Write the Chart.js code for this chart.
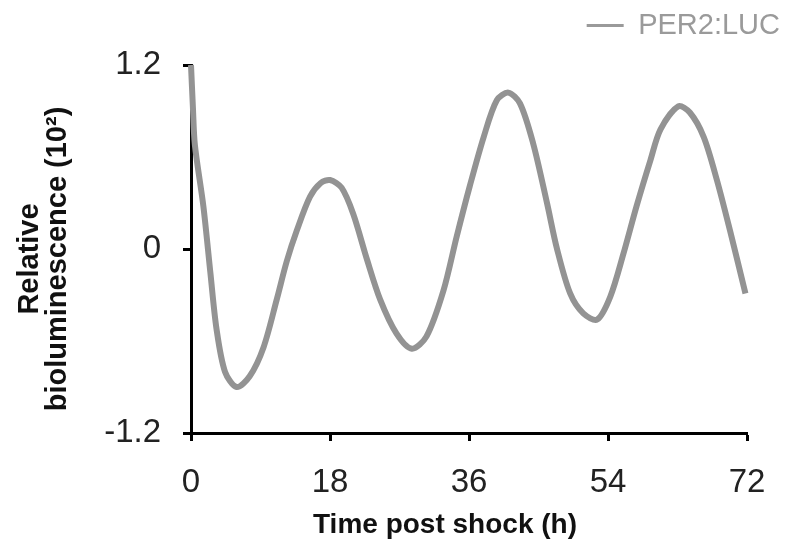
<!DOCTYPE html>
<html>
<head>
<meta charset="utf-8">
<script src="https://cdn.jsdelivr.net/npm/chart.js@4.4.1/dist/chart.umd.min.js"></script>
<style>
  html, body { margin: 0; padding: 0; background: #fff; }
  #wrap { width: 787px; height: 546px; }
</style>
</head>
<body>
<div id="wrap"><canvas id="chart"></canvas></div>
<script>
// hours after shock
const hours = [0, 0.25, 0.5, 1.6, 2.5, 3.3, 4.4, 5.9, 7.6, 9.4, 11.1, 12.4, 13.7, 15.4, 16.8,
  18.0, 19.5, 21.0, 22.8, 24.5, 26.6, 28.6, 30.5, 32.7, 34.4, 36.1, 37.9, 39.6, 41.1,
  42.6, 44.3, 46.1, 47.4, 49.1, 50.8, 52.6, 54.3, 56.0, 57.7, 59.5, 60.8, 63.1, 64.6,
  66.4, 68.1, 69.8, 71.8];
// relative bioluminescence (10^2)
const per2luc = [1.2, 0.92, 0.68, 0.28, -0.15, -0.52, -0.80, -0.90, -0.83, -0.64, -0.33, -0.08,
  0.12, 0.34, 0.43, 0.45, 0.40, 0.23, -0.07, -0.33, -0.55, -0.65, -0.57, -0.27, 0.08,
  0.41, 0.73, 0.97, 1.02, 0.95, 0.69, 0.30, 0.0, -0.29, -0.42, -0.46, -0.31, -0.03,
  0.28, 0.58, 0.78, 0.93, 0.89, 0.73, 0.45, 0.12, -0.29];

const xTicks = [0, 18, 36, 54, 72];
const yTicks = [-1.2, 0, 1.2];
const yTickLabels = ['-1.2', '0', '1.2'];
const seriesName = 'PER2:LUC';
const xTitle = 'Time post shock (h)';
const yTitle = ['Relative', 'bioluminescence (10\u00B2)'];

const FONT = '"Liberation Sans", Arial, Helvetica, sans-serif';

// axis titles drawn by hand so they can sit off-centre like the original
const axisTitles = {
  id: 'axisTitles',
  afterLayout(chart) {
    // legend sits higher than chart.js would put it
    if (chart.legend) {
      chart.legend.top -= 15;
      chart.legend.bottom -= 15;
    }
  },
  afterDraw(chart) {
    const { ctx, chartArea } = chart;
    ctx.save();
    ctx.fillStyle = '#111';
    ctx.font = 'bold 28px ' + FONT;
    ctx.textAlign = 'center';
    ctx.textBaseline = 'alphabetic';
    ctx.fillText(xTitle, (chartArea.left + chartArea.right) / 2 - 24, chartArea.bottom + 100);

    const cy = (chartArea.top + chartArea.bottom) / 2 + 10;
    ctx.translate(0, cy);
    ctx.rotate(-Math.PI / 2);
    ctx.font = 'bold 29px ' + FONT;
    ctx.fillText(yTitle[0], 0, 38);
    ctx.fillText(yTitle[1], 0, 66);
    ctx.restore();
  }
};

const points = hours.map((h, i) => ({ x: h, y: per2luc[i] }));

new Chart(document.getElementById('chart'), {
  type: 'line',
  data: {
    datasets: [{
      label: seriesName,
      data: points,
      borderColor: '#939393',
      backgroundColor: '#939393',
      borderWidth: 6,
      pointRadius: 0,
      tension: 0.3,
      clip: false
    }]
  },
  options: {
    responsive: true,
    maintainAspectRatio: false,
    animation: false,
    layout: { padding: { right: 7 } },
    plugins: {
      tooltip: { enabled: false },
      legend: {
        position: 'top',
        align: 'end',
        labels: {
          usePointStyle: true,
          pointStyle: 'line',
          pointStyleWidth: 37,
          padding: 0,
          color: '#9a9a9a',
          font: { family: FONT, size: 29 },
          generateLabels: (chart) =>
            Chart.defaults.plugins.legend.labels.generateLabels(chart)
              .map(l => ({ ...l, lineWidth: 3, strokeStyle: '#9a9a9a' }))
        }
      }
    },
    scales: {
      x: {
        type: 'linear',
        min: 0,
        max: 72,
        afterBuildTicks: (scale) => { scale.ticks = xTicks.map(v => ({ value: v })); },
        afterFit: (scale) => { scale.height = 113; scale.paddingRight = 40; },
        border: { display: true, color: '#000', width: 3 },
        grid: { drawOnChartArea: false, drawTicks: true, tickLength: 8, tickColor: '#000', tickWidth: 3 },
        ticks: {
          color: '#222',
          padding: 22,
          maxRotation: 0,
          font: { family: FONT, size: 33 },
          callback: (v) => String(v)
        }
      },
      y: {
        min: -1.2,
        max: 1.2,
        afterBuildTicks: (scale) => { scale.ticks = yTicks.map(v => ({ value: v })); },
        afterFit: (scale) => { scale.width = 191; scale.paddingTop = 65; },
        border: { display: true, color: '#000', width: 3 },
        grid: { drawOnChartArea: false, drawTicks: true, tickLength: 8, tickColor: '#000', tickWidth: 3 },
        ticks: {
          color: '#222',
          padding: 22,
          font: { family: FONT, size: 33 },
          callback: (v) => yTickLabels[yTicks.indexOf(v)] ?? String(v)
        }
      }
    }
  },
  plugins: [axisTitles]
});
</script>
</body>
</html>
